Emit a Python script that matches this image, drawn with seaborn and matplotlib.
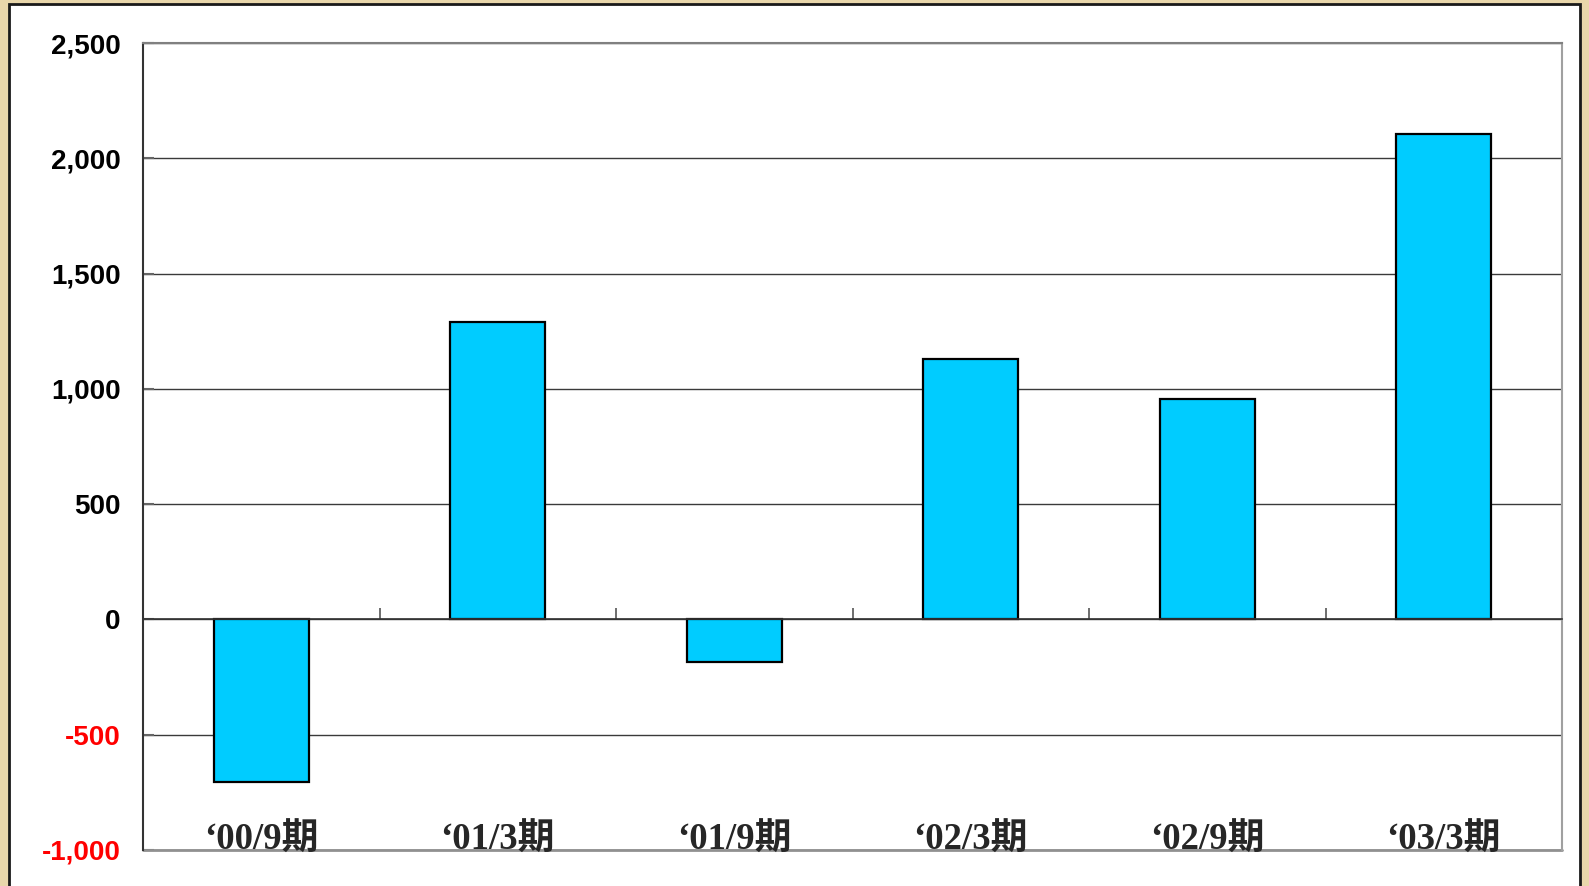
import matplotlib
matplotlib.use("Agg")
import matplotlib.pyplot as plt
import matplotlib.patches as mpatches
import matplotlib.transforms as mtransforms
import seaborn as sns
import pandas as pd

# ---- data ----
categories = ["‘00/9期", "‘01/3期", "‘01/9期", "‘02/3期", "‘02/9期", "‘03/3期"]
values = [-705, 1290, -185, 1130, 955, 2105]
y_ticks = [-1000, -500, 0, 500, 1000, 1500, 2000, 2500]
y_tick_labels = ["-1,000", "-500", "0", "500", "1,000", "1,500", "2,000", "2,500"]

sns.set_theme(style="white")
plt.rcParams["font.family"] = ["Liberation Sans", "DejaVu Sans"]

W, H = 1589, 886
fig = plt.figure(figsize=(W / 100, H / 100), dpi=100)
fig.patch.set_facecolor("#E9D7AB")

# white panel with dark border
panel = mpatches.Rectangle((9 / W, -0.05), (1580 - 9) / W, 1 - 4 / H + 0.05,
                           transform=fig.transFigure, facecolor="white",
                           edgecolor="#1a1a1a", linewidth=2.0, zorder=-5)
fig.patches.append(panel)

ax = fig.add_axes([143 / W, 1 - 850 / H, (1562 - 143) / W, (850 - 43) / H])
ax.set_facecolor("white")
ax.set_zorder(1)

df = pd.DataFrame({"cat": categories, "val": values})
sns.barplot(data=df, x="cat", y="val", color="#00CCFF", saturation=1,
            edgecolor="black", linewidth=1.6, width=0.4, ax=ax, zorder=3)

ax.set_ylim(-1000, 2500)
ax.set_xlim(-0.5, len(categories) - 0.5)
ax.set_yticks(y_ticks)
ax.set_yticklabels(y_tick_labels, fontsize=20, fontweight="bold")
for lbl, v in zip(ax.get_yticklabels(), y_ticks):
    lbl.set_color("#FF0000" if v < 0 else "black")

ax.yaxis.grid(True, color="#3a3a3a", linewidth=1.0, zorder=1)
ax.set_axisbelow(True)
ax.tick_params(axis="y", left=True, direction="in", length=8, width=1.5,
               color="#666666", pad=16)

# category axis at zero with boundary ticks
ax.spines["bottom"].set_position(("data", 0))
ax.spines["bottom"].set_color("#333333")
ax.spines["bottom"].set_linewidth(1.2)
ax.spines["bottom"].set_zorder(4)
ax.set_xticks(range(len(categories)))
ax.set_xticklabels([])
ax.tick_params(axis="x", which="major", bottom=False, length=0)
ax.set_xticks([i + 0.5 for i in range(len(categories) - 1)], minor=True)
ax.tick_params(axis="x", which="minor", bottom=True, direction="in", length=8,
               width=1.2, color="#555555")
ax.set_xlabel("")
ax.set_ylabel("")

ax.spines["left"].set_color("#333333")
ax.spines["left"].set_linewidth(1.5)
ax.spines["top"].set_color("#808080")
ax.spines["top"].set_linewidth(1.5)
ax.spines["right"].set_color("#A0A0A0")
ax.spines["right"].set_linewidth(1.5)

# plot-area frame bottom
ax.axhline(y_ticks[0], color="#909090", linewidth=2.0, clip_on=False, zorder=2)

# category labels inside plot area, on the bottom frame
trans = mtransforms.blended_transform_factory(ax.transData, ax.transAxes)
for i, c in enumerate(categories):
    ax.text(i, 0.0, c, transform=trans, ha="center", va="baseline",
            fontsize=26.5, fontweight="bold",
            family=["Liberation Serif", "Noto Sans CJK JP"], zorder=5)

fig.savefig("out.png", dpi=100, facecolor=fig.get_facecolor())
